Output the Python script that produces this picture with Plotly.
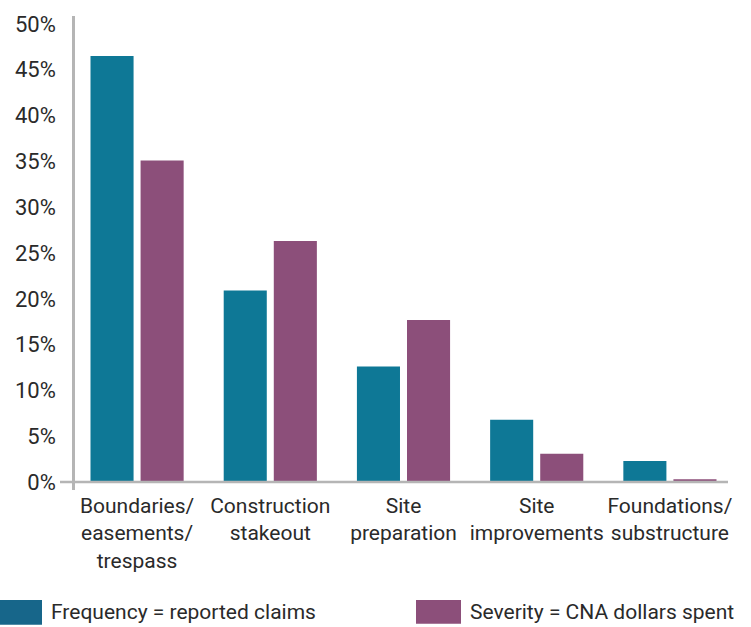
import plotly.graph_objects as go

categories = ["Boundaries/<br>easements/<br>trespass", "Construction<br>stakeout",
              "Site<br>preparation", "Site<br>improvements", "Foundations/<br>substructure"]
frequency = [46.5, 20.9, 12.6, 6.8, 2.3]
severity = [35.1, 26.3, 17.7, 3.1, 0.3]
series_names = ["Frequency = reported claims", "Severity = CNA dollars spent"]
y_ticks = [0, 5, 10, 15, 20, 25, 30, 35, 40, 45, 50]
y_tick_text = [f"{v}%" for v in y_ticks]

TEAL = "#0e7896"
PURPLE = "#8c4f7a"
TEXT = "#2a2a2a"
AXIS = "#b5b5b5"
FONT = "Roboto"

W, H = 751, 627
ML, MR, MT, MB = 75, 23, 12, 137
y_lo, y_hi = -0.87, 50.87

fig = go.Figure()
fig.add_trace(go.Bar(x=list(range(len(categories))), y=frequency, name=series_names[0],
                     marker=dict(color=TEAL, line=dict(width=0)), showlegend=False))
fig.add_trace(go.Bar(x=list(range(len(categories))), y=severity, name=series_names[1],
                     marker=dict(color=PURPLE, line=dict(width=0)), showlegend=False))

plot_w = W - ML - MR
plot_h = H - MT - MB
y0_paper = (0 - y_lo) / (y_hi - y_lo)

# x axis baseline extending slightly left of y axis
fig.add_shape(type="line", xref="paper", yref="paper",
              x0=-15 / plot_w, x1=1, y0=y0_paper, y1=y0_paper,
              line=dict(color=AXIS, width=2.5), layer="above")

# custom legend
legend_y_top = -(601 - (H - MB)) / plot_h
legend_y_bot = -(626 - (H - MB)) / plot_h
fig.add_shape(type="rect", xref="paper", yref="paper",
              x0=(0 - ML) / plot_w, x1=(42 - ML) / plot_w,
              y0=legend_y_bot, y1=legend_y_top, fillcolor="#17668a", line=dict(width=0))
fig.add_shape(type="rect", xref="paper", yref="paper",
              x0=(416 - ML) / plot_w, x1=(461 - ML) / plot_w,
              y0=legend_y_bot + 1 / plot_h, y1=legend_y_top, fillcolor=PURPLE, line=dict(width=0))
ty = -(613 - (H - MB)) / plot_h
fig.add_annotation(xref="paper", yref="paper", x=(49 - ML) / plot_w, y=ty,
                   text=series_names[0], showarrow=False, xanchor="left", yanchor="middle",
                   font=dict(family=FONT, size=21, color=TEXT))
fig.add_annotation(xref="paper", yref="paper", x=(468 - ML) / plot_w, y=ty,
                   text=series_names[1], showarrow=False, xanchor="left", yanchor="middle",
                   font=dict(family=FONT, size=21, color=TEXT))

fig.update_layout(
    width=W, height=H,
    margin=dict(l=ML, r=MR, t=MT, b=MB),
    paper_bgcolor="white", plot_bgcolor="white",
    barmode="group", bargap=0.248, bargroupgap=0.14,
    font=dict(family=FONT, color=TEXT),
    xaxis=dict(
        tickmode="array", tickvals=list(range(len(categories))), ticktext=categories,
        range=[-0.466, 4.436], showgrid=False, zeroline=False, showline=False,
        ticks="", tickfont=dict(family=FONT, size=21, color=TEXT), ticklabelstandoff=1,
    ),
    yaxis=dict(
        range=[y_lo, y_hi], tickmode="array", tickvals=y_ticks, ticktext=y_tick_text,
        showgrid=False, zeroline=False, showline=True, linecolor=AXIS, linewidth=2.5,
        ticks="", tickfont=dict(family=FONT, size=22, color=TEXT), ticklabelstandoff=12,
    ),
)

fig.write_html("out.html")
